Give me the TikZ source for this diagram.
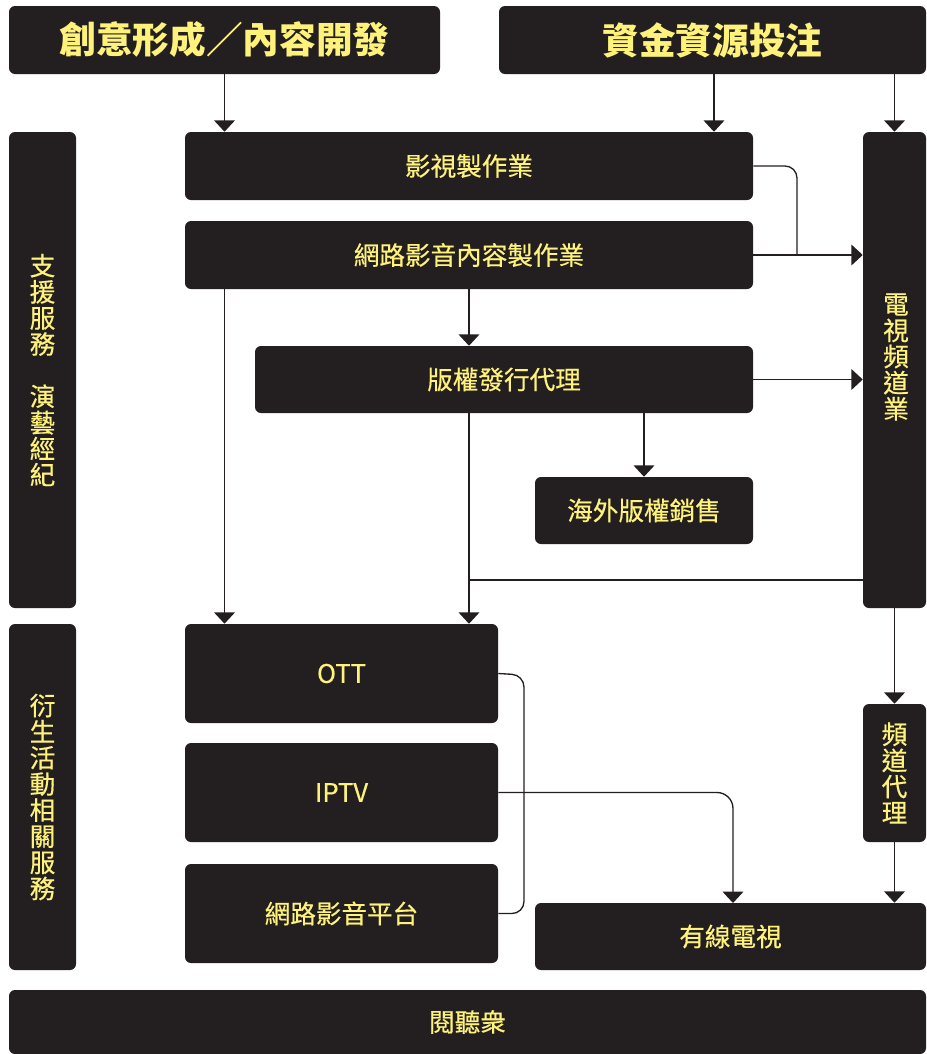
\documentclass[tikz,border=0pt]{standalone}
\usepackage{fontspec}
\setmainfont{Noto Sans CJK TC}
\newfontfamily\bodyfont{Noto Sans CJK TC}[FakeBold=0.5]
\usetikzlibrary{arrows.meta,calc}
\definecolor{boxfill}{HTML}{231F20}
\definecolor{boxtext}{HTML}{FFF27A}
\definecolor{linec}{HTML}{231F20}
\tikzset{
  box/.style={fill=boxfill,draw=none,rounded corners=4.5pt,inner sep=0pt,text=boxtext,
    font=\bodyfont\fontsize{19.2}{19.6}\selectfont,align=center},
  hdbox/.style={box,font=\normalfont\fontsize{27.5}{30}\selectfont\bfseries},
  conn/.style={draw=linec,line width=1pt},
  arr/.style={conn,-{Triangle[width=15.5pt,length=8.5pt]}},
}
% \mybx[style]{name}{x1}{y1}{x2}{y2}{text}
\newcommand{\mybx}[7][box]{%
  \node[#1,minimum width={(#5-#3)*0.75pt},minimum height={(#6-#4)*0.75pt}]
    (#2) at ({(#3+#5)/2},{(#4+#6)/2}) {#7};}
\begin{document}
\begin{tikzpicture}[x=0.75pt,y=-0.75pt]
\useasboundingbox (0,0) rectangle (926,1054);
% headers
\mybx[hdbox]{h1}{9}{6}{440}{74}{創意形成／內容開發}
\mybx[hdbox]{h2}{499}{6}{926}{74}{資金資源投注}
% left bars
\mybx{sup}{9}{132}{76}{608}{支\\援\\服\\務\\\mbox{}\\演\\藝\\經\\紀}
\mybx{der}{9}{624}{76}{970}{衍\\生\\活\\動\\相\\關\\服\\務}
% production
\mybx{p1}{185}{132}{753}{200}{影視製作業}
\mybx{p2}{185}{221}{753}{289}{網路影音內容製作業}
\mybx{p3}{255}{346}{753}{413}{版權發行代理}
\mybx{ov}{535}{477}{753}{544}{海外版權銷售}
% tv channel
\mybx{tv}{863}{132}{926}{608}{}
\node[box,fill=none] (tvt) at (896,357) {電\\視\\頻\\道\\業};
\mybx{ag}{863}{704}{926}{842}{頻\\道\\代\\理}
% platforms
\mybx{ott}{185}{624}{498}{723}{OTT}
\mybx{iptv}{185}{743}{498}{842}{IPTV}
\mybx{web}{185}{864}{498}{963}{網路影音平台}
\mybx{cab}{535}{903}{926}{970}{有線電視}
\mybx{aud}{9}{990}{926}{1054}{閱聽衆}
% connectors
\draw[arr] (h1.south) -- (h1.south |- p1.north);
\draw[arr] (714,74) coordinate (h2a) -- (h2a |- p1.north);
\draw[arr] (tv.north |- h2.south) -- (tv.north);
\coordinate (j1) at (797,254);
\draw[conn,rounded corners=9pt] (p1.east) -| (j1);
\draw[arr] (p2.east) -- (tv.west |- p2.east);
\draw[arr] (p2.south) -- (p2.south |- p3.north);
\draw[arr] (p2.south -| h1.south) -- (ott.north -| h1.south);
\draw[arr] (p3.east) -- (tv.west |- p3.east);
\draw[arr] (ov.north |- p3.south) -- (ov.north);
\draw[arr] (p3.south -| p2.south) -- (ott.north -| p2.south);
\coordinate (j2) at (469,580);
\draw[conn] (tv.west |- j2) -- (j2);
\draw[arr] (tv.south) -- (ag.north);
\draw[arr] (ag.south) -- (ag.south |- cab.north);
\coordinate (b1) at (524,675);
\draw[conn,rounded corners=9pt] (ott.east) -- (b1) |- (web.east);
\coordinate (c1) at (733,903);
\draw[arr,rounded corners=12pt] (iptv.east) -| (c1);
\end{tikzpicture}
\end{document}
